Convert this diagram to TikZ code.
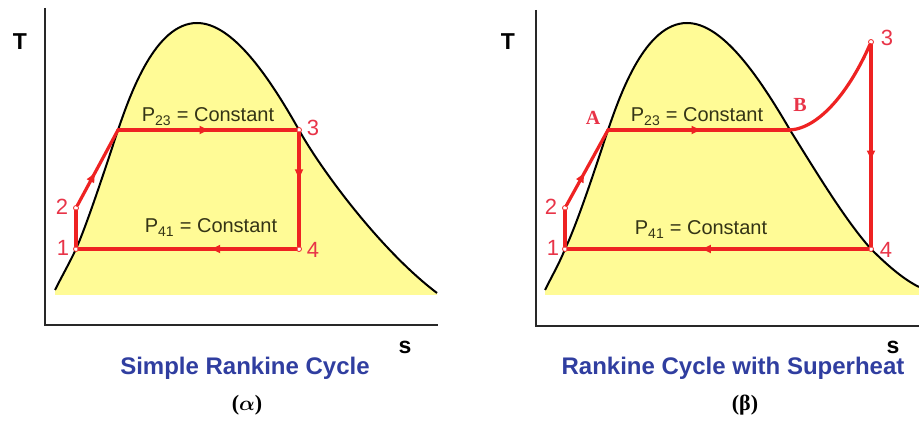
\documentclass[tikz,border=0pt]{standalone}
\usepackage{fontspec}
\setmainfont{Liberation Sans}
\newfontfamily\grfont{Liberation Serif}
\usepackage{xcolor}
\usetikzlibrary{positioning,arrows.meta,decorations.markings}

\definecolor{domefill}{RGB}{255,251,150}
\definecolor{procred}{RGB}{238,34,34}
\definecolor{numred}{RGB}{232,52,72}
\definecolor{presstxt}{RGB}{52,52,22}
\definecolor{titleblue}{RGB}{48,62,160}
\definecolor{axisgray}{RGB}{40,40,40}

\begin{document}
\begin{tikzpicture}[
  x=1pt, y=-1pt,
  axis/.style={draw=axisgray, line width=2.6pt},
  dome/.style={draw=black, line width=2pt},
  proc/.style={draw=procred, line width=3.2pt, line cap=round},
  marr/.style={postaction={decorate, decoration={markings,
      mark=at position #1 with {\arrow{Latex[length=11pt,width=9pt]}}}}},
  pt/.style={circle, draw=procred, fill=white, line width=0.8pt, inner sep=0pt, minimum size=5pt},
  num/.style={text=numred, font=\fontsize{22}{22}\selectfont, inner sep=0pt},
  ltr/.style={text=numred, font=\grfont\bfseries\fontsize{20}{20}\selectfont, inner sep=0pt},
  press/.style={text=presstxt, font=\fontsize{20}{20}\selectfont, inner sep=0pt, anchor=base},
  axlbl/.style={font=\bfseries\fontsize{23}{23}\selectfont, inner sep=0pt},
  title/.style={text=titleblue, font=\bfseries\fontsize{24}{24}\selectfont, inner sep=0pt, anchor=base},
  sub/.style={font=\grfont\bfseries\boldmath\fontsize{22}{22}\selectfont, inner sep=0pt}]
\useasboundingbox (0,0) rectangle (919,427);

% (a) simple cycle
\fill[domefill] (55,290) .. controls (62,276) and (70,262) .. (76,249)
  .. controls (88,222) and (108,160) .. (118,130)
  .. controls (130,95) and (155,23) .. (197,23)
  .. controls (232,23) and (268,75) .. (299,130)
  .. controls (320,168) and (380,250) .. (437,293) -- (437,295) -- (55,295) -- cycle;
\draw[axis] (45,8) -- (45,325) -- (438,325);
\draw[dome] (55,290) .. controls (62,276) and (70,262) .. (76,249)
  .. controls (88,222) and (108,160) .. (118,130)
  .. controls (130,95) and (155,23) .. (197,23)
  .. controls (232,23) and (268,75) .. (299,130)
  .. controls (320,168) and (380,250) .. (437,293);

\node[pt] (l1) at (76,249) {};
\node[pt] (l2) at (76,208) {};
\coordinate (lA) at (118,130);
\node[pt] (l3) at (299,130) {};
\node[pt] (l4) at (299,249) {};

\draw[proc] (l1) -- (l2);
\draw[proc, marr=0.45] (l2) -- (lA);
\draw[proc, marr=0.52] (lA) -- (l3);
\draw[proc, marr=0.42] (l3) -- (l4);
\draw[proc, marr=0.4] (l4) -- (l1);

\node[num] at (63,248) {1};
\node[num] at (62,207) {2};
\node[num] at (313,128) {3};
\node[num] at (313,250) {4};
\node[press] at (208,122) {P\textsubscript{23} = Constant};
\node[press] at (211,233) {P\textsubscript{41} = Constant};
\node[axlbl] at (20,42) {T};
\node[axlbl] at (405,347) {s};
\node[title] at (245,375) {Simple Rankine Cycle};
\node[sub] at (247,405) {($\alpha$)};

% (b) with superheat
\fill[domefill] (545,290) .. controls (552,276) and (560,262) .. (565,249)
  .. controls (578,222) and (598,160) .. (608,130)
  .. controls (620,95) and (645,23) .. (687,23)
  .. controls (722,23) and (758,75) .. (790,130)
  .. controls (815,170) and (845,220) .. (871,249)
  .. controls (890,268) and (905,280) .. (919,287) -- (919,295) -- (545,295) -- cycle;
\draw[axis] (536,10) -- (536,326) -- (919,326);
\draw[dome] (545,290) .. controls (552,276) and (560,262) .. (565,249)
  .. controls (578,222) and (598,160) .. (608,130)
  .. controls (620,95) and (645,23) .. (687,23)
  .. controls (722,23) and (758,75) .. (790,130)
  .. controls (815,170) and (845,220) .. (871,249)
  .. controls (890,268) and (905,280) .. (919,287);

\node[pt] (r1) at (565,249) {};
\node[pt] (r2) at (565,208) {};
\coordinate (rA) at (608,130);
\coordinate (rB) at (790,130);
\node[pt] (r3) at (871,42) {};
\node[pt] (r4) at (871,249) {};

\draw[proc] (r1) -- (r2);
\draw[proc, marr=0.45] (r2) -- (rA);
\draw[proc, marr=0.52] (rA) -- (rB);
\draw[proc] (rB) .. controls (820,128) and (850,90) .. (r3);
\draw[proc, marr=0.58] (r3) -- (r4);
\draw[proc, marr=0.56] (r4) -- (r1);

\node[num] at (553,248) {1};
\node[num] at (551,207) {2};
\node[num] at (887,38) {3};
\node[num] at (886,250) {4};
\node[ltr] at (593,118) {A};
\node[ltr] at (800,105) {B};
\node[press] at (697,122) {P\textsubscript{23} = Constant};
\node[press] at (701,235) {P\textsubscript{41} = Constant};
\node[axlbl] at (508,42) {T};
\node[axlbl] at (893,347) {s};
\node[title] at (733,375) {Rankine Cycle with Superheat};
\node[sub] at (745,405) {(β)};
\end{tikzpicture}
\end{document}
